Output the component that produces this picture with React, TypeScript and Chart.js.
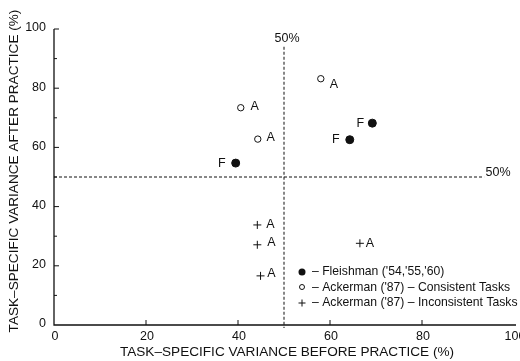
import React, { useEffect, useRef } from "react";
import { Chart, registerables } from "chart.js";

Chart.register(...registerables);

// Data
const fleishmanX = [39.5, 64.3, 69.2];
const fleishmanY = [54.7, 62.6, 68.2];
const consistentX = [40.6, 44.3, 58.0];
const consistentY = [73.4, 62.8, 83.2];
const inconsistentX = [44.2, 44.2, 44.9, 66.5];
const inconsistentY = [33.8, 27.1, 16.6, 27.6];
const fleishmanLabels = ["F", "F", "F"];
const consistentLabels = ["A", "A", "A"];
const inconsistentLabels = ["A", "A", "A", "A"];
const xTicks = [0, 20, 40, 60, 80, 100];
const yTicks = [0, 20, 40, 60, 80, 100];
const yMinorTicks = [10, 30, 50, 70, 90];
const thresholdX = 50;
const thresholdY = 50;
const legendItems = [
  "– Fleishman ('54,'55,'60)",
  "– Ackerman ('87) – Consistent Tasks",
  "– Ackerman ('87) – Inconsistent Tasks",
];

const FONT = "'Liberation Sans', Arial, sans-serif";
const INK = "#111";

// label offsets (style)
const fOffsets = [[-14, 0], [-14, 0], [-12, 0]];
const cOffsets = [[14, -1], [13, -2], [13, 6]];
const iOffsets = [[13, 0], [14, -2], [11, -2], [10, 0]];

const drawPlugin = {
  id: "custom",
  afterDatasetsDraw(chart: any) {
    const { ctx, scales } = chart;
    const xs = scales.x;
    const ys = scales.y;
    const left = xs.getPixelForValue(0);
    const bottom = ys.getPixelForValue(0);
    const top = ys.getPixelForValue(100);
    const right = xs.getPixelForValue(100) + 2;
    ctx.save();
    // axes
    ctx.strokeStyle = INK;
    ctx.lineWidth = 1.3;
    ctx.beginPath();
    ctx.moveTo(left, top);
    ctx.lineTo(left, bottom);
    ctx.lineTo(right, bottom);
    ctx.stroke();
    ctx.lineWidth = 1;
    // ticks
    ctx.beginPath();
    xTicks.forEach((t) => {
      if (t === 0 || t === 100) return;
      const px = xs.getPixelForValue(t);
      ctx.moveTo(px, bottom);
      ctx.lineTo(px, bottom - 5);
    });
    yTicks.forEach((t) => {
      if (t === 0) return;
      const py = ys.getPixelForValue(t);
      ctx.moveTo(left, py);
      ctx.lineTo(left + 5, py);
    });
    yMinorTicks.forEach((t) => {
      const py = ys.getPixelForValue(t);
      ctx.moveTo(left, py);
      ctx.lineTo(left + 3, py);
    });
    ctx.stroke();
    // tick labels
    ctx.fillStyle = INK;
    ctx.font = `12.5px ${FONT}`;
    ctx.textAlign = "center";
    ctx.textBaseline = "top";
    xTicks.forEach((t) => {
      ctx.fillText(String(t), xs.getPixelForValue(t) + 1, bottom + 5);
    });
    ctx.textAlign = "right";
    ctx.textBaseline = "middle";
    yTicks.forEach((t) => {
      ctx.fillText(String(t), left - 8, ys.getPixelForValue(t) - 1);
    });
    // axis titles
    ctx.font = `13.6px ${FONT}`;
    ctx.textAlign = "center";
    ctx.textBaseline = "middle";
    ctx.fillText("TASK–SPECIFIC VARIANCE BEFORE PRACTICE (%)", 287, 352);
    ctx.save();
    ctx.translate(14, 171);
    ctx.rotate(-Math.PI / 2);
    ctx.fillText("TASK–SPECIFIC VARIANCE AFTER PRACTICE (%)", 0, 0);
    ctx.restore();
    // threshold lines
    ctx.setLineDash([3, 2]);
    ctx.lineWidth = 1;
    const vx = xs.getPixelForValue(thresholdX);
    const hy = ys.getPixelForValue(thresholdY);
    ctx.beginPath();
    ctx.moveTo(vx, ys.getPixelForValue(94));
    ctx.lineTo(vx, bottom + 3);
    ctx.moveTo(left, hy);
    ctx.lineTo(xs.getPixelForValue(93.5), hy);
    ctx.stroke();
    ctx.setLineDash([]);
    ctx.font = `12.5px ${FONT}`;
    ctx.textAlign = "center";
    ctx.textBaseline = "bottom";
    ctx.fillText("50%", vx + 3, ys.getPixelForValue(94.5));
    ctx.textAlign = "left";
    ctx.textBaseline = "middle";
    ctx.fillText("50%", xs.getPixelForValue(93.8), hy - 4);
    // point labels
    ctx.font = `12.5px ${FONT}`;
    ctx.textAlign = "center";
    ctx.textBaseline = "middle";
    fleishmanX.forEach((x, i) => {
      ctx.fillText(fleishmanLabels[i], xs.getPixelForValue(x) + fOffsets[i][0], ys.getPixelForValue(fleishmanY[i]) + fOffsets[i][1]);
    });
    consistentX.forEach((x, i) => {
      ctx.fillText(consistentLabels[i], xs.getPixelForValue(x) + cOffsets[i][0], ys.getPixelForValue(consistentY[i]) + cOffsets[i][1]);
    });
    inconsistentX.forEach((x, i) => {
      ctx.fillText(inconsistentLabels[i], xs.getPixelForValue(x) + iOffsets[i][0], ys.getPixelForValue(inconsistentY[i]) + iOffsets[i][1]);
    });
    // legend
    const lx = 302;
    const ly = [272, 288, 303];
    ctx.font = `12.2px ${FONT}`;
    ctx.textAlign = "left";
    ctx.textBaseline = "middle";
    legendItems.forEach((txt, i) => {
      ctx.fillText(txt, lx + 10, ly[i]);
    });
    ctx.beginPath();
    ctx.arc(lx, ly[0], 3.5, 0, Math.PI * 2);
    ctx.fill();
    ctx.beginPath();
    ctx.arc(lx, ly[1] - 1, 2.5, 0, Math.PI * 2);
    ctx.stroke();
    ctx.beginPath();
    ctx.moveTo(lx - 3.5, ly[2]);
    ctx.lineTo(lx + 3.5, ly[2]);
    ctx.moveTo(lx, ly[2] - 3.5);
    ctx.lineTo(lx, ly[2] + 3.5);
    ctx.stroke();
    ctx.restore();
  },
};

export default function App() {
  const ref = useRef<HTMLCanvasElement | null>(null);
  useEffect(() => {
    document.body.style.margin = "0";
    document.body.style.background = "#fff";
    const toPts = (xs: number[], ys: number[]) => xs.map((x, i) => ({ x, y: ys[i] }));
    const chart = new Chart(ref.current as HTMLCanvasElement, {
      type: "scatter",
      data: {
        datasets: [
          {
            label: "Fleishman",
            data: toPts(fleishmanX, fleishmanY),
            pointStyle: "circle",
            pointRadius: 4,
            backgroundColor: INK,
            borderColor: INK,
            borderWidth: 1,
          },
          {
            label: "Consistent",
            data: toPts(consistentX, consistentY),
            pointStyle: "circle",
            pointRadius: 3.2,
            backgroundColor: "#fff",
            borderColor: INK,
            borderWidth: 1,
          },
          {
            label: "Inconsistent",
            data: toPts(inconsistentX, inconsistentY),
            pointStyle: "cross",
            pointRadius: 4,
            borderColor: INK,
            borderWidth: 1,
          },
        ],
      },
      options: {
        animation: false,
        responsive: false,
        devicePixelRatio: 1,
        layout: { padding: { left: 54, right: 16, top: 29, bottom: 36 } },
        plugins: { legend: { display: false }, tooltip: { enabled: false } },
        scales: {
          x: {
            type: "linear",
            min: 0,
            max: 100,
            display: false,
          },
          y: {
            type: "linear",
            min: 0,
            max: 100,
            display: false,
          },
        },
      },
      plugins: [drawPlugin],
    });
    return () => chart.destroy();
  }, []);
  return (
    <div style={{ width: 520, height: 361, overflow: "hidden", background: "#fff" }}>
      <canvas ref={ref} width={530} height={361} style={{ display: "block" }} />
    </div>
  );
}
